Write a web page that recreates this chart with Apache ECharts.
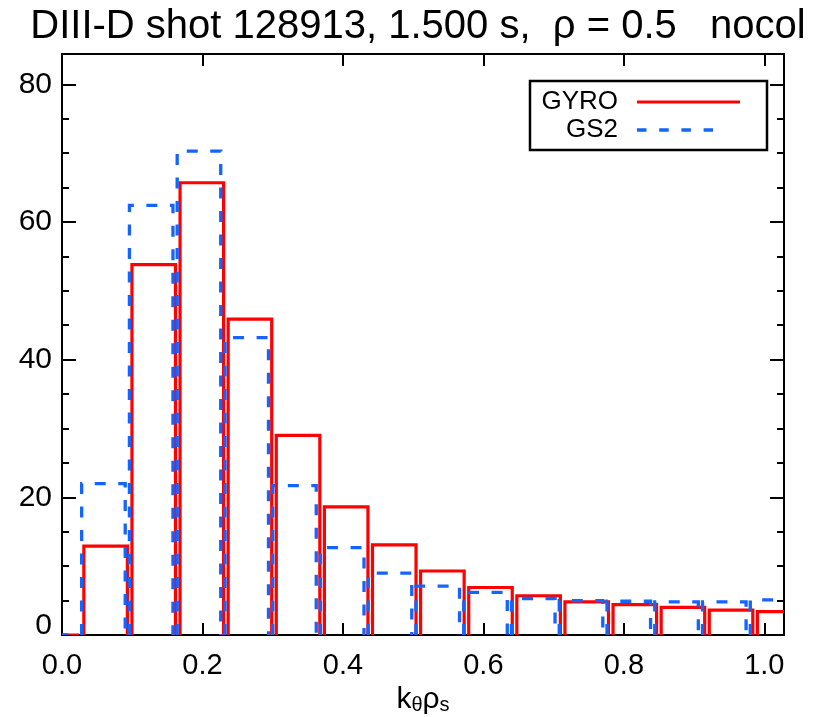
<!DOCTYPE html>
<html><head><meta charset="utf-8">
<script src="https://cdn.jsdelivr.net/npm/echarts@6/dist/echarts.min.js"></script>
<style>html,body{margin:0;padding:0;background:#fff}#c{width:816px;height:717px}</style>
</head><body><div id="c"></div>
<script>
// ---- data ----
var titleText = 'DIII-D shot 128913, 1.500 s,  \u03c1 = 0.5   nocol';
var legendNames = ['GYRO', 'GS2'];
var kyGYRO = [-0.0064, 0.0621, 0.1306, 0.1991, 0.2676, 0.3361, 0.4046, 0.4731, 0.5416, 0.6101, 0.6786, 0.7471, 0.8156, 0.8841, 0.9526, 1.0211];
var gyroValues = [0, 12.9, 53.8, 65.7, 45.9, 29.0, 18.6, 13.1, 9.3, 6.9, 5.7, 4.8, 4.4, 4.0, 3.6, 3.4];
var kyGS2 = [-0.009, 0.059, 0.127, 0.195, 0.263, 0.331, 0.399, 0.467, 0.535, 0.603, 0.671, 0.739, 0.807, 0.875, 0.943, 1.011];
var gs2Values = [0, 22.0, 62.4, 70.3, 43.2, 21.7, 12.7, 9.0, 7.1, 6.2, 5.3, 5.0, 4.9, 4.8, 4.8, 5.1];
var xTickLabels = ['0.0', '0.2', '0.4', '0.6', '0.8', '1.0'];
var yTickLabels = ['0', '20', '40', '60', '80'];

// ---- styling ----
var FONT = "'Liberation Sans', Arial, Helvetica, sans-serif";
var RED = '#ff0000', BLUE = '#1464ff';
var HALF_W = 0.031;
var X_MIN = 0, X_MAX = 1.028, Y_MIN = 0, Y_MAX = 84.4;

function barRenderer(color, width, dash) {
  return function (params, api) {
    var x = api.value(0), h = api.value(1);
    var pts = [api.coord([x - HALF_W, 0]), api.coord([x - HALF_W, h]), api.coord([x + HALF_W, h]), api.coord([x + HALF_W, 0])];
    return { type: 'polyline', shape: { points: pts },
      style: { stroke: color, lineWidth: width, fill: null, lineDash: dash || null } };
  };
}
function pairs(xs, ys) { return xs.map(function (x, i) { return [x, ys[i]]; }); }

var frameLine = { show: true, onZero: false, lineStyle: { color: '#000', width: 2 } };
function yAx(pos, interval, len, labels) {
  return {
    type: 'value', min: Y_MIN, max: Y_MAX, interval: interval, position: pos,
    axisLine: frameLine,
    axisTick: { show: true, inside: true, length: len, lineStyle: { color: '#000', width: 2 } },
    axisLabel: labels ? {
      show: true, margin: 10, fontSize: 30, fontFamily: FONT, color: '#000', showMaxLabel: false,
      formatter: function (v) {
        var i = yTickLabels.indexOf(String(Math.round(v)));
        if (Math.abs(v - Math.round(v)) > 1e-6 || i < 0) return '';
        return v === 0 ? '{z|' + yTickLabels[i] + '}' : yTickLabels[i];
      },
      rich: { z: { fontSize: 30, fontFamily: FONT, color: '#000', padding: [0, 0, 18, 0] } }
    } : { show: false },
    splitLine: { show: false }
  };
}

var chart = echarts.init(document.getElementById('c'), null, { renderer: 'canvas' });
chart.setOption({
  animation: false,
  backgroundColor: '#fff',
  grid: { left: 62, right: 32, top: 54, bottom: 82, containLabel: false, outerBoundsMode: 'none' },
  xAxis: [{
    type: 'value', min: X_MIN, max: X_MAX, interval: 0.2, position: 'bottom',
    axisLine: frameLine,
    axisTick: { show: true, inside: true, length: 12, lineStyle: { color: '#000', width: 2 } },
    axisLabel: { show: true, margin: 16, fontSize: 29, fontFamily: FONT, color: '#000', showMaxLabel: false,
      formatter: function (v) { var i = Math.round(v / 0.2); return Math.abs(v - i * 0.2) < 1e-6 ? xTickLabels[i] : ''; } },
    splitLine: { show: false },
    name: '{a|k}{b|\u03b8}{a|\u03c1}{b|s}', nameLocation: 'middle', nameGap: 46,
    nameTextStyle: { rich: {
      a: { fontSize: 30, fontFamily: FONT, color: '#000', lineHeight: 32, verticalAlign: 'middle' },
      b: { fontSize: 20, fontFamily: FONT, color: '#000', lineHeight: 14, verticalAlign: 'bottom' } } }
  }, {
    type: 'value', min: X_MIN, max: X_MAX, interval: 0.2, position: 'top',
    axisLine: frameLine,
    axisTick: { show: true, inside: true, length: 12, lineStyle: { color: '#000', width: 2 } },
    axisLabel: { show: false }, splitLine: { show: false }
  }],
  yAxis: [yAx('left', 20, 14, true), yAx('left', 5, 7, false), yAx('right', 20, 14, false), yAx('right', 5, 7, false)],
  series: [{
    name: legendNames[0], type: 'custom', xAxisIndex: 0, yAxisIndex: 0, clip: true, z: 2,
    renderItem: barRenderer(RED, 3.2), data: pairs(kyGYRO, gyroValues)
  }, {
    name: legendNames[1], type: 'custom', xAxisIndex: 0, yAxisIndex: 0, clip: true, z: 3,
    renderItem: barRenderer(BLUE, 3.3, [11, 12.5]), data: pairs(kyGS2, gs2Values)
  }],
  graphic: [
    { type: 'text', x: 418, y: 27, z: 100,
      style: { text: titleText, font: '40px ' + FONT, fill: '#000', align: 'center', verticalAlign: 'middle' } },
    { type: 'rect', z: 100, shape: { x: 530, y: 81, width: 237, height: 69 },
      style: { fill: '#fff', stroke: '#000', lineWidth: 2.5 } },
    { type: 'text', x: 618, y: 102, z: 101,
      style: { text: legendNames[0], font: '26px ' + FONT, fill: '#000', align: 'right', verticalAlign: 'middle' } },
    { type: 'text', x: 618, y: 130, z: 101,
      style: { text: legendNames[1], font: '26px ' + FONT, fill: '#000', align: 'right', verticalAlign: 'middle' } },
    { type: 'line', z: 101, shape: { x1: 637, y1: 102, x2: 740, y2: 102 }, style: { stroke: RED, lineWidth: 3 } },
    { type: 'line', z: 101, shape: { x1: 637, y1: 130, x2: 713, y2: 130 }, style: { stroke: BLUE, lineWidth: 3.3, lineDash: [9.5, 12.7] } }
  ]
});
</script></body></html>
